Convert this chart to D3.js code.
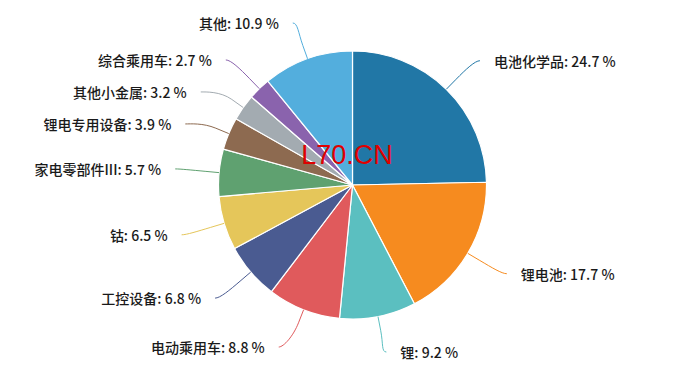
<!DOCTYPE html>
<html><head><meta charset="utf-8">
<script src="https://cdn.jsdelivr.net/npm/d3@7/dist/d3.min.js"></script>
<style>body{margin:0;background:#fff;}svg{display:block;}</style>
</head><body><svg id="c" width="696" height="368"></svg>
<script>
const categories = ["电池化学品","锂电池","锂","电动乘用车","工控设备","钴","家电零部件III","锂电专用设备","其他小金属","综合乘用车","其他"];
const values = [24.7,17.7,9.2,8.8,6.8,6.5,5.7,3.9,3.2,2.7,10.9];
const colors = ["#2177a6","#f68b1f","#5bbfc0","#e05a5c","#4a5b91","#e5c65a","#5fa170","#8d6a50","#a3abb1","#8a63ad","#53aedd"];
const watermark = "L70.CN";

(function(){
const svg = d3.select("#c");
const cx = 352.5, cy = 185, r = 134, R = 178, Ry = 174;
const data = categories.map((c,i)=>({name:c, value:values[i], color:colors[i]}));
const pie = d3.pie().value(d=>d.value).sort(null);
const arcs = pie(data);
const arc = d3.arc().innerRadius(0).outerRadius(r);
const g = svg.append("g").attr("transform",`translate(${cx},${cy})`);
g.selectAll("path.slice").data(arcs).join("path").attr("class","slice")
 .attr("d",arc).attr("fill",d=>d.data.color).attr("stroke","#fff").attr("stroke-width",1.2).attr("stroke-linejoin","round");

const labels = arcs.map(a=>{
  const m=(a.startAngle+a.endAngle)/2;
  return {a, m, side: Math.sin(m)>=0?1:-1, y: -Ry*Math.cos(m), bound:false};
});
const minGap=32, yTop=-162, yBottom=167;
[1,-1].forEach(s=>{
  const L=labels.filter(d=>d.side===s).sort((p,q)=>p.y-q.y);
  let prev=-Infinity;
  L.forEach(d=>{
    if(d.y<yTop){ d.y=yTop; d.bound=true; }
    if(d.y<prev+minGap) d.y=prev+minGap;
    prev=d.y;
  });
  for(let i=L.length-1;i>=0;i--){
    const last = i===L.length-1;
    const lim = last?yBottom:L[i+1].y-minGap;
    if(L[i].y>lim){ L[i].y=lim; if(last) L[i].bound=true; }
  }
});
labels.forEach(d=>{
  if(d.bound){ d.x = R*Math.sin(d.m); }
  else { const dy=Math.min(Math.abs(d.y),R-1); d.x = d.side*Math.sqrt(R*R-dy*dy); }
  const tx=r*Math.sin(d.m), ty=-r*Math.cos(d.m);
  const bx=(r+14)*Math.sin(d.m), by=-(r+14)*Math.cos(d.m);
  const p=d3.path();
  p.moveTo(d.x,d.y);
  p.bezierCurveTo(d.x - d.side*5, d.y, 2*bx-tx, 2*by-ty, bx, by);
  p.lineTo(tx,ty);
  g.append("path").attr("d",p.toString()).attr("fill","none").attr("stroke",d.a.data.color).attr("stroke-width",1);
  g.append("text").attr("x",d.x + d.side*14).attr("y",d.y+2)
   .attr("text-anchor",d.side>0?"start":"end").attr("dominant-baseline","middle")
   .attr("font-family","'Noto Sans CJK SC','Noto Sans',sans-serif").attr("font-size",14).attr("font-weight",500)
   .attr("fill","#1a1a1a").text(`${d.a.data.name}: ${d.a.data.value} %`);
});

svg.append("text").attr("x",347).attr("y",164).attr("text-anchor","middle")
 .attr("font-family","'Liberation Sans',Arial,sans-serif").attr("font-size",27).attr("fill","#e00000").text(watermark);
})();
</script></body></html>
